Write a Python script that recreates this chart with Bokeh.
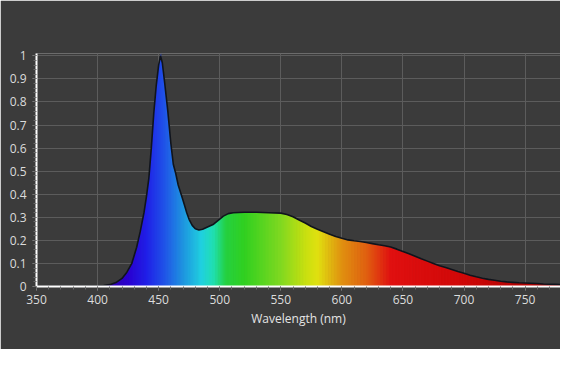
from bokeh.plotting import figure
from bokeh.models import FixedTicker, Range1d
from bokeh.embed import file_html
from bokeh.resources import INLINE
import numpy as np

# Spectrum data
wavelength = [350, 360, 370, 380, 390, 395, 400, 405, 410, 415, 420, 424, 428, 432, 435, 438, 440, 442, 444,
              446, 448, 450, 451.5, 453, 455, 457.5, 460, 462, 464, 466, 469, 471, 473, 475, 477.5, 480,
              483, 486, 490, 495, 500, 503, 507, 511, 520, 530, 540, 550, 555, 560, 565, 570, 575, 580,
              585, 590, 595, 600, 605, 610, 615, 620, 625, 630, 635, 640, 645, 650, 655, 660, 665, 670,
              675, 680, 685, 690, 695, 700, 705, 710, 715, 720, 725, 730, 735, 740, 745, 750, 755, 760,
              765, 770, 775, 779]
intensity = [0, 0, 0, 0, 0, 0.001, 0.002, 0.004, 0.008, 0.017, 0.035, 0.062, 0.10, 0.17, 0.24, 0.32, 0.39, 0.47, 0.60,
             0.75, 0.87, 0.96, 1.0, 0.97, 0.88, 0.76, 0.62, 0.53, 0.49, 0.44, 0.39, 0.355, 0.32, 0.29, 0.265, 0.25,
             0.245, 0.248, 0.258, 0.27, 0.292, 0.305, 0.316, 0.32, 0.322, 0.322, 0.32, 0.318, 0.312, 0.302, 0.288, 0.275, 0.26, 0.248,
             0.237, 0.227, 0.217, 0.209, 0.202, 0.198, 0.195, 0.191, 0.186, 0.181, 0.177, 0.171, 0.162, 0.152, 0.142, 0.131, 0.12, 0.11,
             0.10, 0.09, 0.082, 0.074, 0.065, 0.057, 0.049, 0.042, 0.036, 0.031, 0.027, 0.023, 0.02, 0.018, 0.016, 0.015, 0.014, 0.013,
             0.011, 0.01, 0.009, 0.008]

x_ticks = [350, 400, 450, 500, 550, 600, 650, 700, 750]
y_ticks = [0, 0.1, 0.2, 0.3, 0.4, 0.5, 0.6, 0.7, 0.8, 0.9, 1]
y_labels = ["0", "0.1", "0.2", "0.3", "0.4", "0.5", "0.6", "0.7", "0.8", "0.9", "1"]

# colour stops of the spectral fill (styling)
stop_nm = [380, 400, 425, 440, 455, 470, 485, 495, 505, 520, 550, 570, 580, 600, 620, 640, 700, 780]
stop_col = ["#200050", "#300090", "#2a00d0", "#2020e8", "#2055e8", "#1f95e0", "#20d0e0", "#20e0b0",
            "#25d040", "#30d020", "#80d820", "#c8e010", "#e0e010", "#e09010", "#e06010", "#e01010",
            "#d00808", "#a00000"]


def spec_color(nm):
    rgb = []
    for k in range(3):
        vals = [int(c[1 + 2 * k:3 + 2 * k], 16) for c in stop_col]
        rgb.append(int(round(np.interp(nm, stop_nm, vals))))
    return "#%02x%02x%02x" % tuple(rgb)


BG = "#3b3b3b"
FONT = "Open Sans"

p = figure(width=560, height=349, output_backend="svg", toolbar_location=None,
           x_range=Range1d(350, 779), y_range=Range1d(0, 1.01),
           min_border_left=36, min_border_right=0, min_border_top=53, min_border_bottom=63)
p.background_fill_color = BG
p.border_fill_color = BG
p.outline_line_color = None

# spectral fill: one slice per pair of neighbouring data points, subdivided for a smooth colour ramp
N_SUB = 4
for i in range(len(wavelength) - 1):
    x0, x1 = wavelength[i], wavelength[i + 1]
    y0, y1 = intensity[i], intensity[i + 1]
    if y0 == 0 and y1 == 0:
        continue
    for s in range(N_SUB):
        a, b = s / N_SUB, (s + 1) / N_SUB
        xa, xb = x0 + (x1 - x0) * a, x0 + (x1 - x0) * b
        ya, yb = y0 + (y1 - y0) * a, y0 + (y1 - y0) * b
        c = spec_color((xa + xb) / 2)
        p.varea(x=[xa, xb + 0.6], y1=[0, 0], y2=[ya, yb + (yb - ya) * 0.6 / max(xb - xa, 1e-6)],
                fill_color=c, fill_alpha=1.0)

p.line(wavelength, intensity, line_color="#10141c", line_width=1.6)

# axes styling
for ax in (p.xaxis, p.yaxis):
    ax.axis_line_color = "white"
    ax.axis_line_width = 2
    ax.major_tick_line_color = "#8a8a8a"
    ax.minor_tick_line_color = "#6a6a6a"
    ax.major_tick_in = 0
    ax.minor_tick_in = 0
    ax.major_tick_out = 4
    ax.minor_tick_out = 3
    ax.major_label_text_color = "#dcdcdc"
    ax.major_label_text_font = FONT
    ax.major_label_text_font_size = "12px"
    ax.major_label_standoff = 4

p.xaxis.ticker = FixedTicker(ticks=x_ticks, minor_ticks=list(range(350, 781, 10)))
p.yaxis.ticker = FixedTicker(ticks=y_ticks, minor_ticks=[i / 50 for i in range(0, 51)])
p.yaxis.major_label_overrides = {t: l for t, l in zip(y_ticks, y_labels)}
p.xaxis.axis_label = "Wavelength (nm)"
p.xaxis.axis_label_text_color = "#e4e4e4"
p.xaxis.axis_label_text_font = FONT
p.xaxis.axis_label_text_font_size = "12px"
p.xaxis.axis_label_text_font_style = "normal"
p.xaxis.axis_label_standoff = 3
p.yaxis.major_label_standoff = 6

p.grid.grid_line_color = "#5c5c5c"
p.grid.grid_line_width = 1

open("out.html", "w").write(file_html(p, INLINE))
